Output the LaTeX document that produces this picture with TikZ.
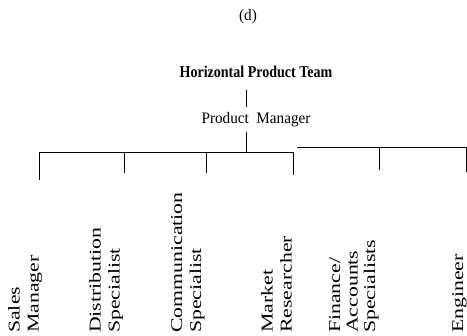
\documentclass[tikz,border=0pt]{standalone}
\usepackage{fontspec}
\setmainfont{Liberation Serif}
\newfontfamily\labfont[FakeStretch=1.32]{Liberation Serif}
\newfontfamily\headfont[FakeStretch=0.85]{Liberation Serif}
\newfontfamily\pmfont[FakeStretch=0.95]{Liberation Serif}
\begin{document}
\begin{tikzpicture}[x=1pt,y=-1pt,
  rule/.style={line width=0.9pt,black},
  role/.style={rotate=90,anchor=north west,inner sep=0pt,align=left,
    font=\labfont\fontsize{16.5}{19}\selectfont},
  plain/.style={inner sep=0pt,font=\pmfont\fontsize{16}{18}\selectfont}]
\useasboundingbox (0,0) rectangle (467,336);

% headings
\node[plain] (tag) at (248,17) {(d)};
\node[inner sep=0pt,font=\headfont\bfseries\fontsize{16.5}{18}\selectfont] (team) at (256,72) {Horizontal Product Team};
\node[plain] (pm) at (256,120) {Product~~Manager};

% trunk from the team title down to the bar
\coordinate (t1) at (246,90);
\coordinate (t2) at (246,107);
\coordinate (t3) at (246,132);
\coordinate (t4) at (246,152);
\draw[rule] (t1) -- (t2);
\draw[rule] (t3) -- (t4);

% the bar, in two pieces
\coordinate (b1) at (39,152);
\coordinate (b2) at (124,152);
\coordinate (b3) at (206,152);
\coordinate (b4) at (293,152);
\coordinate (b5) at (379,147);
\coordinate (b6) at (466.5,147);
\coordinate (bj) at (297,147);
\draw[rule] (b1) -- (b4);
\draw[rule] (bj) -- (b6);

% drops to each role
\coordinate (e1) at (39,180);
\coordinate (e2) at (124,173);
\coordinate (e3) at (206,173);
\coordinate (e4) at (293,175);
\coordinate (e5) at (379,170);
\coordinate (e6) at (466.5,172);
\foreach \i in {1,...,6} \draw[rule] (b\i) -- (e\i);

% roles
\node[role] (r1) at (8,333) {Sales\\Manager};
\node[role] (r2) at (89,333) {Distribution\\Specialist};
\node[role] (r3) at (171,333) {Communication\\Specialist};
\node[role] (r4) at (261,333) {Market\\Researcher};
\node[role,font=\labfont\fontsize{16.5}{17.5}\selectfont] (r5) at (329,333) {Finance/\\Accounts\\Specialists};
\node[role] (r6) at (452,333) {Engineer};
\end{tikzpicture}
\end{document}
